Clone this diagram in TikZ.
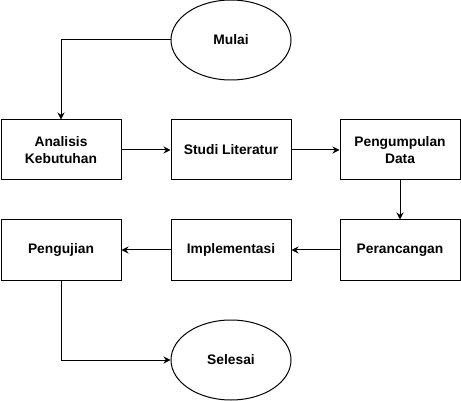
\documentclass[tikz,border=0pt]{standalone}
\usepackage{fontspec}
\setmainfont{Liberation Sans}
\usetikzlibrary{arrows.meta,shapes.geometric}

\begin{document}
\begin{tikzpicture}[x=1pt,y=-1pt,
	tahap/.style={draw, line width=1pt, minimum width=120pt, minimum height=60pt, inner sep=0pt, align=center, font=\fontsize{13.8}{16.5}\selectfont\bfseries},
	ujung/.style={draw, ellipse, line width=1pt, minimum width=120pt, minimum height=80pt, inner sep=0pt, font=\fontsize{13.8}{16.5}\selectfont\bfseries},
	panah/.style={-{Stealth[length=7pt,width=7pt]}, line width=1pt}]

			\useasboundingbox (0,0) rectangle (461,401);

			\node[ujung] (mulai) at (231,40) {Mulai};

			\node[tahap] (analisis) at (61,150) {Analisis\\Kebutuhan};
			\node[tahap] (studi) at (231,150) {Studi Literatur};
			\node[tahap] (pengumpulan) at (400,150) {Pengumpulan\\Data};

			\node[tahap] (pengujian) at (61,250) {Pengujian};
			\node[tahap] (implementasi) at (231,250) {Implementasi};
			\node[tahap] (perancangan) at (400,250) {Perancangan};

			\node[ujung] (selesai) at (231,360) {Selesai};

			\draw[panah] (mulai.west) -| (analisis.north);
			\draw[panah] (analisis) -- (studi);
			\draw[panah] (studi) -- (pengumpulan);
			\draw[panah] (pengumpulan) -- (perancangan);
			\draw[panah] (perancangan) -- (implementasi);
			\draw[panah] (implementasi) -- (pengujian);
			\draw[panah] (pengujian.south) |- (selesai.west);

		\end{tikzpicture}
\end{document}
